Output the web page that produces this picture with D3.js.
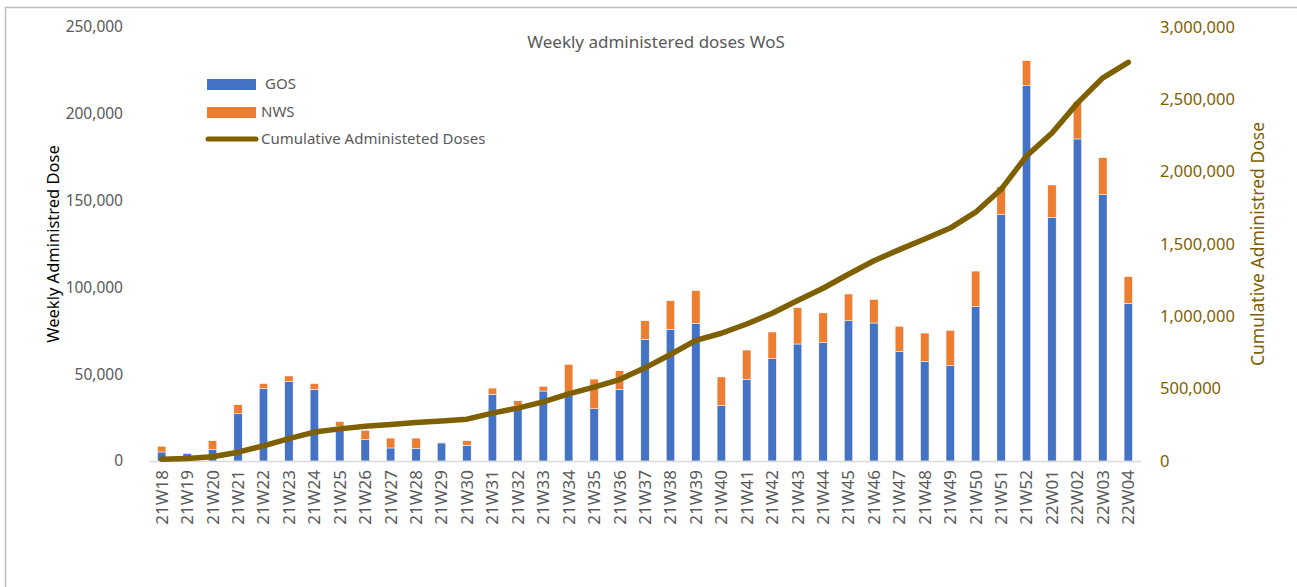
<!DOCTYPE html>
<html>
<head>
<meta charset="utf-8">
<script src="https://cdn.jsdelivr.net/npm/d3@7"></script>
<style>
  body { margin: 0; background: #fff; }
  text { font-family: "Noto Sans", "Open Sans", sans-serif; }
</style>
</head>
<body>
<div id="chart"></div>
<script>
// Semaines
const weeks = ["21W18","21W19","21W20","21W21","21W22","21W23","21W24","21W25","21W26","21W27",
  "21W28","21W29","21W30","21W31","21W32","21W33","21W34","21W35","21W36","21W37",
  "21W38","21W39","21W40","21W41","21W42","21W43","21W44","21W45","21W46","21W47",
  "21W48","21W49","21W50","21W51","21W52","22W01","22W02","22W03","22W04"];

// Doses hebdomadaires GOS
const gos = [5200, 4200, 6700, 27200, 41800, 45700, 41300, 20000, 12300, 7500,
  7300, 10400, 9000, 38400, 32100, 40300, 38000, 30100, 41300, 70100,
  75900, 79300, 31900, 47100, 58900, 67400, 68200, 80800, 79500, 63200,
  57400, 54900, 88900, 141900, 216200, 140400, 185500, 153400, 90800];

// Doses hebdomadaires NWS
const nws = [3300, 200, 5000, 5200, 2800, 3300, 3300, 2700, 5400, 5700,
  5900, 400, 2700, 3600, 2600, 2700, 17700, 17100, 10700, 10700,
  16400, 18800, 16500, 16800, 15400, 20900, 17100, 15400, 13600, 14400,
  16300, 20400, 20500, 16100, 14400, 18600, 21500, 21300, 15400];

// Doses cumulées
const cumulative = [12000, 17000, 29000, 61000, 105000, 155000, 200000, 222000, 240000, 253000,
  266000, 277000, 289000, 331000, 366000, 409000, 464000, 511000, 563000, 644000,
  736000, 834000, 883000, 947000, 1021000, 1109000, 1194000, 1291000, 1384000, 1461000,
  1535000, 1610000, 1720000, 1878000, 2108000, 2267000, 2474000, 2649000, 2756000];

const leftTicks = [0, 50000, 100000, 150000, 200000, 250000];
const rightTicks = [0, 500000, 1000000, 1500000, 2000000, 2500000, 3000000];

const width = 1297, height = 587;
const margin = { top: 27, right: 156, bottom: 126, left: 149 };

const svg = d3.select("#chart").append("svg")
  .attr("width", width)
  .attr("height", height);

// cadre
svg.append("rect")
  .attr("x", 5.5).attr("y", 7.5)
  .attr("width", width + 10).attr("height", height + 10)
  .attr("fill", "none")
  .attr("stroke", "#bfbfbf")
  .attr("stroke-width", 1.5);

const x = d3.scaleBand()
  .domain(weeks)
  .range([margin.left, width - margin.right])
  .paddingInner(0.67)
  .paddingOuter(0.335);

const y = d3.scaleLinear()
  .domain([0, 250000])
  .range([height - margin.bottom, margin.top]);

const y2 = d3.scaleLinear()
  .domain([0, 3000000])
  .range([height - margin.bottom, margin.top]);

const fmt = d3.format(",");

// axe gauche
const yAxis = svg.append("g")
  .attr("transform", `translate(${margin.left},0)`)
  .call(d3.axisLeft(y).tickValues(leftTicks).tickFormat(fmt).tickSize(0).tickPadding(26));
yAxis.select(".domain").remove();
yAxis.selectAll("text")
  .attr("fill", "#595959")
  .style("font-size", "15.5px");

// axe droit
const y2Axis = svg.append("g")
  .attr("transform", `translate(${width - margin.right},0)`)
  .call(d3.axisRight(y2).tickValues(rightTicks).tickFormat(fmt).tickSize(0).tickPadding(19));
y2Axis.select(".domain").remove();
y2Axis.selectAll("text")
  .attr("fill", "#7f6000")
  .style("font-size", "16.5px");

// barres empilées
const rows = weeks.map((w, i) => ({ week: w, GOS: gos[i], NWS: nws[i] }));
const stack = d3.stack().keys(["GOS", "NWS"])(rows);
const colors = { GOS: "#4472c4", NWS: "#ed7d31" };

svg.append("g")
  .selectAll("g")
  .data(stack)
  .join("g")
  .attr("fill", d => colors[d.key])
  .selectAll("rect")
  .data(d => d)
  .join("rect")
  .attr("x", d => x(d.data.week))
  .attr("y", d => y(d[1]))
  .attr("width", x.bandwidth())
  .attr("height", d => y(d[0]) - y(d[1]))
  .attr("stroke", "#fff")
  .attr("stroke-width", 0.5);

// axe x
const xAxis = svg.append("g")
  .attr("transform", `translate(0,${height - margin.bottom})`)
  .call(d3.axisBottom(x).tickSize(0).tickPadding(8));
xAxis.select(".domain")
  .attr("stroke", "#d9d9d9")
  .attr("stroke-width", 1.5);
xAxis.selectAll("text")
  .attr("fill", "#595959")
  .style("font-size", "17px")
  .attr("transform", "rotate(-90)")
  .attr("text-anchor", "end")
  .attr("x", -9)
  .attr("y", 0)
  .attr("dy", "0.35em");

// courbe cumulée
const line = d3.line()
  .x((d, i) => x(weeks[i]) + x.bandwidth() / 2)
  .y(d => y2(d));

svg.append("path")
  .datum(cumulative)
  .attr("d", line)
  .attr("fill", "none")
  .attr("stroke", "#7f6000")
  .attr("stroke-width", 5.5)
  .attr("stroke-linecap", "round")
  .attr("stroke-linejoin", "round");

// titre
svg.append("text")
  .attr("x", 656).attr("y", 48)
  .attr("text-anchor", "middle")
  .attr("fill", "#595959")
  .style("font-size", "17px")
  .text("Weekly administered doses WoS");

// titres des axes
svg.append("text")
  .attr("transform", `translate(59,244) rotate(-90)`)
  .attr("text-anchor", "middle")
  .attr("fill", "#000")
  .style("font-size", "16.5px")
  .text("Weekly Administred Dose");

svg.append("text")
  .attr("transform", `translate(1264,244) rotate(-90)`)
  .attr("text-anchor", "middle")
  .attr("fill", "#7f6000")
  .style("font-size", "17.5px")
  .text("Cumulative Administred Dose");

// légende
const legend = svg.append("g");
legend.append("rect").attr("x", 207).attr("y", 79).attr("width", 49).attr("height", 11).attr("fill", colors.GOS);
legend.append("text").attr("x", 265).attr("y", 84).attr("dy", "0.35em")
  .attr("fill", "#595959").style("font-size", "15px").text("GOS");
legend.append("rect").attr("x", 207).attr("y", 107).attr("width", 49).attr("height", 11).attr("fill", colors.NWS);
legend.append("text").attr("x", 261).attr("y", 112).attr("dy", "0.35em")
  .attr("fill", "#595959").style("font-size", "15px").text("NWS");
legend.append("line").attr("x1", 208).attr("x2", 256).attr("y1", 139).attr("y2", 139)
  .attr("stroke", "#7f6000").attr("stroke-width", 5).attr("stroke-linecap", "round");
legend.append("text").attr("x", 261).attr("y", 139).attr("dy", "0.35em")
  .attr("fill", "#595959").style("font-size", "15px").text("Cumulative Administeted Doses");
</script>
</body>
</html>
